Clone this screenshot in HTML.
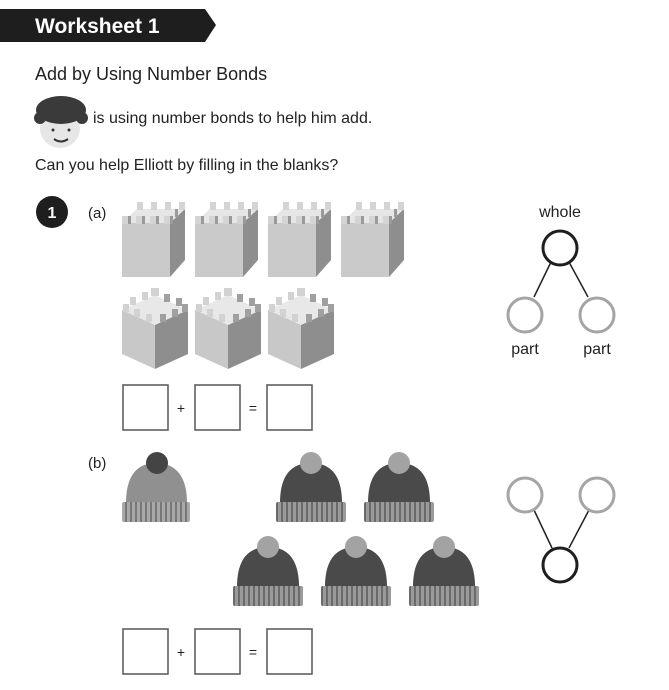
<!DOCTYPE html>
<html><head><meta charset="utf-8"><style>
html,body{margin:0;padding:0;background:#fff;width:669px;height:690px;overflow:hidden}
text{font-family:"Liberation Sans",sans-serif}
</style></head><body>
<svg width="669" height="690" viewBox="0 0 669 690" xmlns="http://www.w3.org/2000/svg">
<defs>
<pattern id="st" width="5" height="10" patternUnits="userSpaceOnUse"><rect width="5" height="10" fill="#9a9a9a"/><rect width="2" height="10" fill="#6a6a6a"/></pattern>
<pattern id="st2" width="5" height="10" patternUnits="userSpaceOnUse"><rect width="5" height="10" fill="#a8a8a8"/><rect width="2" height="10" fill="#777"/></pattern>
<g id="c1">
<polygon points="0,18 15,4 63,4 48,18" fill="#e6e6e6"/>
<rect x="0" y="18" width="48" height="54" fill="#cacaca"/>
<polygon points="48,18 63,4 63,55 48,72" fill="#8e8e8e"/>
<g fill="#d4d4d4"><rect x="0" y="11" width="6" height="8"/><rect x="14" y="11" width="6" height="8"/><rect x="28" y="11" width="6" height="8"/><rect x="42" y="11" width="6" height="8"/>
<rect x="15" y="-3" width="6" height="8"/><rect x="29" y="-3" width="6" height="8"/><rect x="43" y="-3" width="6" height="8"/><rect x="57" y="-3" width="6" height="8"/></g>
<g fill="#9a9a9a"><rect x="6" y="11" width="3" height="8"/><rect x="20" y="11" width="3" height="8"/><rect x="34" y="11" width="3" height="8"/><rect x="48" y="11" width="3" height="8"/><rect x="53" y="4" width="3" height="8"/></g>
</g>
<g id="c2">
<polygon points="0,18 33,3 66,18 33,33" fill="#e8e8e8"/>
<polygon points="0,18 33,33 33,77 0,62" fill="#c8c8c8"/>
<polygon points="33,33 66,18 66,62 33,77" fill="#8e8e8e"/>
<g fill="#d2d2d2"><rect x="1" y="12" width="6" height="8"/><rect x="12" y="17" width="6" height="8"/><rect x="24" y="22" width="6" height="8"/><rect x="8" y="5" width="6" height="8"/><rect x="20" y="0" width="6" height="8"/><rect x="29" y="-4" width="8" height="8"/></g>
<g fill="#a0a0a0"><rect x="38" y="22" width="6" height="8"/><rect x="50" y="17" width="6" height="8"/><rect x="60" y="12" width="6" height="8"/><rect x="42" y="2" width="6" height="8"/><rect x="54" y="6" width="6" height="8"/></g>
</g>
<g id="hatd">
<path d="M4,51 C4,18 20,11 35,11 C50,11 66,18 66,51 Z" fill="#4a4a4a"/>
<rect x="0" y="50" width="70" height="20" rx="2" fill="url(#st)"/>
<circle cx="35" cy="11" r="11" fill="#a3a3a3"/>
</g>
</defs>
<polygon points="0,9 205,9 216,25 205,42 0,42" fill="#1e1e1e"/>
<text x="35" y="33" font-size="21" font-weight="bold" fill="#fff">Worksheet 1</text>
<text x="35" y="80" font-size="18" fill="#222">Add by Using Number Bonds</text>
<ellipse cx="60" cy="128" rx="20" ry="20" fill="#e6e6e6"/>
<ellipse cx="61" cy="110" rx="25" ry="14" fill="#3a3a3a"/>
<circle cx="40" cy="118" r="6" fill="#3a3a3a"/><circle cx="82" cy="118" r="6" fill="#3a3a3a"/>
<circle cx="53" cy="130" r="1.5" fill="#333"/><circle cx="69" cy="130" r="1.5" fill="#333"/>
<path d="M54,139 Q61,144 68,139" stroke="#333" stroke-width="2" fill="none"/>
<text x="93" y="123" font-size="16" fill="#222">is using number bonds to help him add.</text>
<text x="35" y="170" font-size="16" fill="#222">Can you help Elliott by filling in the blanks?</text>
<circle cx="52" cy="212" r="16" fill="#1e1e1e"/>
<text x="52" y="218" font-size="16" font-weight="bold" fill="#fff" text-anchor="middle">1</text>
<text x="88" y="218" font-size="15" fill="#222">(a)</text>
<use href="#c1" x="122" y="205"/><use href="#c1" x="195" y="205"/><use href="#c1" x="268" y="205"/><use href="#c1" x="341" y="205"/>
<use href="#c2" x="122" y="292"/><use href="#c2" x="195" y="292"/><use href="#c2" x="268" y="292"/>
<g fill="none" stroke="#555" stroke-width="1.5">
<rect x="123" y="385" width="45" height="45"/><rect x="195" y="385" width="45" height="45"/><rect x="267" y="385" width="45" height="45"/>
<rect x="123" y="629" width="45" height="45"/><rect x="195" y="629" width="45" height="45"/><rect x="267" y="629" width="45" height="45"/>
</g>
<g font-size="14" fill="#222" text-anchor="middle"><text x="181" y="413">+</text><text x="253" y="413">=</text><text x="181" y="657">+</text><text x="253" y="657">=</text></g>
<text x="560" y="217" font-size="16" fill="#222" text-anchor="middle">whole</text>
<line x1="551" y1="262" x2="534" y2="297" stroke="#222" stroke-width="1.5"/><line x1="569" y1="262" x2="588" y2="297" stroke="#222" stroke-width="1.5"/>
<circle cx="560" cy="248" r="17" fill="none" stroke="#1e1e1e" stroke-width="3"/>
<circle cx="525" cy="315" r="17" fill="#fff" stroke="#a5a5a5" stroke-width="3"/>
<circle cx="597" cy="315" r="17" fill="#fff" stroke="#a5a5a5" stroke-width="3"/>
<text x="525" y="354" font-size="16" fill="#222" text-anchor="middle">part</text>
<text x="597" y="354" font-size="16" fill="#222" text-anchor="middle">part</text>
<text x="88" y="468" font-size="15" fill="#222">(b)</text>
<path d="M126,503 C126,470 142,463 156,463 C170,463 187,470 187,503 Z" fill="#909090"/>
<rect x="122" y="502" width="68" height="20" rx="2" fill="url(#st2)"/>
<circle cx="157" cy="463" r="11" fill="#444"/>
<use href="#hatd" x="276" y="452"/><use href="#hatd" x="364" y="452"/>
<use href="#hatd" x="233" y="536"/><use href="#hatd" x="321" y="536"/><use href="#hatd" x="409" y="536"/>
<line x1="534" y1="510" x2="552" y2="548" stroke="#222" stroke-width="1.5"/><line x1="589" y1="510" x2="569" y2="548" stroke="#222" stroke-width="1.5"/>
<circle cx="525" cy="495" r="17" fill="#fff" stroke="#a5a5a5" stroke-width="3"/>
<circle cx="597" cy="495" r="17" fill="#fff" stroke="#a5a5a5" stroke-width="3"/>
<circle cx="560" cy="565" r="17" fill="#fff" stroke="#1e1e1e" stroke-width="3"/>
</svg>
</body></html>
